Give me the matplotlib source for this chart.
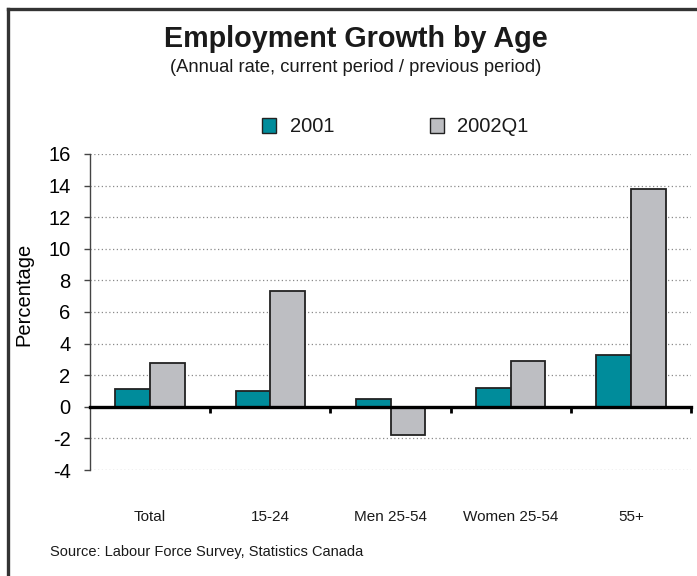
import matplotlib
matplotlib.use("Agg")
import matplotlib.pyplot as plt
import matplotlib.transforms as mtransforms
from matplotlib.patches import Rectangle
import numpy as np

# ---- data ------------------------------------------------------------------
categories = ["Total", "15-24", "Men 25-54", "Women 25-54", "55+"]
growth_2001 = [1.1, 1.0, 0.5, 1.2, 3.3]
growth_2002q1 = [2.8, 7.3, -1.8, 2.9, 13.8]
series_names = ["2001", "2002Q1"]
yticks = [-4, -2, 0, 2, 4, 6, 8, 10, 12, 14, 16]

# ---- style -----------------------------------------------------------------
TEAL = "#008C9B"
GREY = "#BDBEC2"
EDGE = "#222222"
FRAME = "#333333"
SANS = ["Liberation Sans", "DejaVu Sans"]
NARROW = ["Liberation Sans Narrow", "Liberation Sans", "DejaVu Sans"]

plt.rcParams["font.family"] = SANS

W, H = 697, 576
fig = plt.figure(figsize=(W / 100, H / 100), dpi=100)
fig.patch.set_facecolor("white")

# frame: top and left rules only
fig.add_artist(plt.Line2D([7.5 / W, 1.0], [1 - 9 / H, 1 - 9 / H],
                          color=FRAME, lw=2.4, transform=fig.transFigure))
fig.add_artist(plt.Line2D([7.5 / W, 7.5 / W], [0, 1 - 9 / H],
                          color=FRAME, lw=2.4, transform=fig.transFigure))

fig.text(356 / W, 1 - 39 / H, "Employment Growth by Age", ha="center",
         va="center", fontsize=20.7, weight="bold", color="#1a1a1a")
fig.text(356 / W, 1 - 68 / H, "(Annual rate, current period / previous period)",
         ha="center", va="center", fontsize=13.2, color="#1a1a1a")

ax = fig.add_axes([90 / W, 1 - 470 / H, 601 / W, 316 / H])
x = np.arange(len(categories))
bw = 0.288
ax.bar(x - bw / 2, growth_2001, bw, color=TEAL, edgecolor=EDGE, lw=1.3, zorder=3)
ax.bar(x + bw / 2, growth_2002q1, bw, color=GREY, edgecolor=EDGE, lw=1.3, zorder=3)

ax.set_xlim(-0.5, len(categories) - 0.5)
ax.set_ylim(yticks[0], yticks[-1])
ax.set_yticks(yticks)
ax.set_yticklabels([str(t) for t in yticks], fontsize=14.5)
for t in yticks:
    if t != 0:
        ax.axhline(t, color="#8a8a8a", lw=0.9, ls=(0, (1, 2)), zorder=1)

for side in ("top", "right"):
    ax.spines[side].set_visible(False)
ax.spines["left"].set_color("#444444")
ax.spines["left"].set_linewidth(1.0)
ax.spines["bottom"].set_position(("data", 0))
ax.spines["bottom"].set_color("black")
ax.spines["bottom"].set_linewidth(2.4)
ax.spines["bottom"].set_zorder(4)
ax.tick_params(axis="y", direction="out", length=4, width=1, color="#444444", pad=10)
ax.set_xticks(x + 0.5)
ax.set_xticklabels([])
ax.tick_params(axis="x", direction="out", length=4, width=2, color="black")

trans = mtransforms.blended_transform_factory(ax.transData, ax.transAxes)
for xi, name in zip(x, categories):
    ax.text(xi, -0.149, name, transform=trans, ha="center", va="center",
            fontsize=11, family=NARROW, color="#1a1a1a")

ax.set_ylabel("Percentage", fontsize=14.5, labelpad=6)
ax.yaxis.set_label_coords(-0.095, 0.557)

# legend, laid out by hand above the plot
for lx, tx, col, name in [(262, 290, TEAL, series_names[0]),
                          (430, 457, GREY, series_names[1])]:
    fig.add_artist(Rectangle((lx / W, 1 - 133 / H), 14 / W, 15 / H,
                             facecolor=col, edgecolor=EDGE, lw=1.0,
                             transform=fig.transFigure))
    fig.text(tx / W, 1 - 126 / H, name, ha="left", va="center", fontsize=14.5,
             color="#1a1a1a")

fig.text(50 / W, 1 - 552 / H, "Source: Labour Force Survey, Statistics Canada",
         ha="left", va="center", fontsize=10.5, color="#1a1a1a")

fig.savefig("out.png", dpi=100)
